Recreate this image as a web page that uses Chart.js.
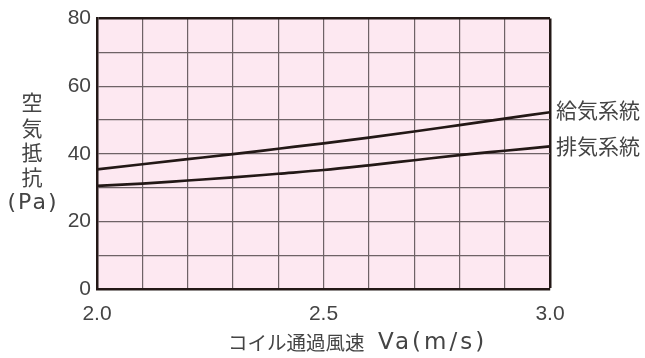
<!DOCTYPE html>
<html>
<head>
<meta charset="utf-8">
<script src="https://cdn.jsdelivr.net/npm/chart.js@4.4.1/dist/chart.umd.min.js"></script>
<style>
  html, body { margin: 0; padding: 0; background: #ffffff; }
  #wrap { width: 645px; height: 358px; }
</style>
</head>
<body>
<div id="wrap"><canvas id="c" width="645" height="358"></canvas></div>
<script>
// ---- data ----
const velocities = [2.0, 2.1, 2.2, 2.3, 2.4, 2.5, 2.6, 2.7, 2.8, 2.9, 3.0];
const supplyValues  = [35.4, 36.9, 38.4, 39.9, 41.5, 43.1, 44.8, 46.6, 48.5, 50.4, 52.3];
const exhaustValues = [30.5, 31.2, 32.1, 33.0, 34.1, 35.2, 36.6, 38.1, 39.6, 40.9, 42.2];
const seriesNames = ['給気系統', '排気系統'];
const xTickLabels = [2.0, 2.5, 3.0];
const yTickLabels = [0, 20, 40, 60, 80];
const yTitleLines = ['空', '気', '抵', '抗', '(Pa)'];
const xTitleJa = 'コイル通過風速';
const xTitleUnit = 'Va(m/s)';

const TEXT = '#444444';
const LINE = '#231816';
const GRID = '#6e6266';
const PINK = '#fde8f1';

const toPts = (ys) => velocities.map((x, i) => ({ x, y: ys[i] }));

const bgPlugin = {
  id: 'plotBg',
  beforeDraw(chart) {
    const { ctx, chartArea: a } = chart;
    ctx.save();
    ctx.fillStyle = PINK;
    ctx.fillRect(a.left, a.top, a.right - a.left, a.bottom - a.top);
    ctx.restore();
  }
};

const textPlugin = {
  id: 'texts',
  afterDraw(chart) {
    const { ctx, chartArea: a } = chart;
    ctx.save();
    ctx.fillStyle = TEXT;
    // y title, stacked
    ctx.textAlign = 'center';
    ctx.textBaseline = 'middle';
    const yCenters = [102.5, 128, 152.5, 177.5];
    yTitleLines.forEach((t, i) => {
      if (i < 4) {
        ctx.font = '21px "Noto Sans CJK JP"';
        ctx.letterSpacing = '0px';
        ctx.fillText(t, 32, yCenters[i]);
      } else {
        ctx.font = '22px "DejaVu Sans"';
        ctx.letterSpacing = '2px';
        ctx.fillText(t, 33, 203);
        ctx.letterSpacing = '0px';
      }
    });
    // x title
    ctx.textAlign = 'left';
    ctx.font = '19.5px "Noto Sans CJK JP"';
    ctx.fillText(xTitleJa, 228, 343);
    ctx.font = '23px "DejaVu Sans"';
    ctx.letterSpacing = '3px';
    ctx.fillText(xTitleUnit, 378, 343);
    ctx.letterSpacing = '0px';
    // series labels at line ends
    ctx.font = '21px "Noto Sans CJK JP"';
    const offs = [-2, 0];
    chart.data.datasets.forEach((ds, i) => {
      const meta = chart.getDatasetMeta(i);
      const last = meta.data[meta.data.length - 1];
      ctx.fillText(seriesNames[i], a.right + 6, last.y + offs[i]);
    });
    ctx.restore();
  }
};

const isEdge = (v, edge) => Math.abs(v - edge) < 1e-6;

new Chart(document.getElementById('c'), {
  type: 'line',
  data: {
    datasets: [
      { label: seriesNames[0], data: toPts(supplyValues), borderColor: LINE, borderWidth: 2.7, pointRadius: 0, cubicInterpolationMode: 'monotone', fill: false },
      { label: seriesNames[1], data: toPts(exhaustValues), borderColor: LINE, borderWidth: 2.7, pointRadius: 0, cubicInterpolationMode: 'monotone', fill: false }
    ]
  },
  options: {
    responsive: false,
    animation: false,
    devicePixelRatio: 1,
    layout: { padding: { left: 0, right: 95, top: 16, bottom: 0 } },
    plugins: { legend: { display: false }, tooltip: { enabled: false }, title: { display: false } },
    scales: {
      x: {
        type: 'linear',
        min: 2.0, max: 3.0,
        afterFit: (s) => { s.height = 69; },
        grid: {
          drawTicks: false,
          color: (c) => isEdge(c.tick.value, 3.0) ? LINE : GRID,
          lineWidth: (c) => isEdge(c.tick.value, 3.0) ? 2.5 : 1.2
        },
        border: { display: true, color: LINE, width: 2.5 },
        ticks: {
          stepSize: 0.1,
          autoSkip: false,
          maxRotation: 0,
          padding: 13,
          color: TEXT,
          font: { family: '"Liberation Sans"', size: 21 },
          callback: (v) => xTickLabels.some(t => isEdge(v, t)) ? Number(v).toFixed(1) : ''
        }
      },
      y: {
        min: 0, max: 80,
        afterFit: (s) => { s.width = 97; },
        grid: {
          drawTicks: false,
          color: (c) => isEdge(c.tick.value, 80) ? LINE : GRID,
          lineWidth: (c) => isEdge(c.tick.value, 80) ? 2.5 : 1.2
        },
        border: { display: true, color: LINE, width: 2.5 },
        ticks: {
          stepSize: 10,
          autoSkip: false,
          padding: 6,
          color: TEXT,
          font: { family: '"Liberation Sans"', size: 21 },
          callback: (v) => yTickLabels.includes(v) ? String(v) : ''
        }
      }
    }
  },
  plugins: [bgPlugin, textPlugin]
});
</script>
</body>
</html>
